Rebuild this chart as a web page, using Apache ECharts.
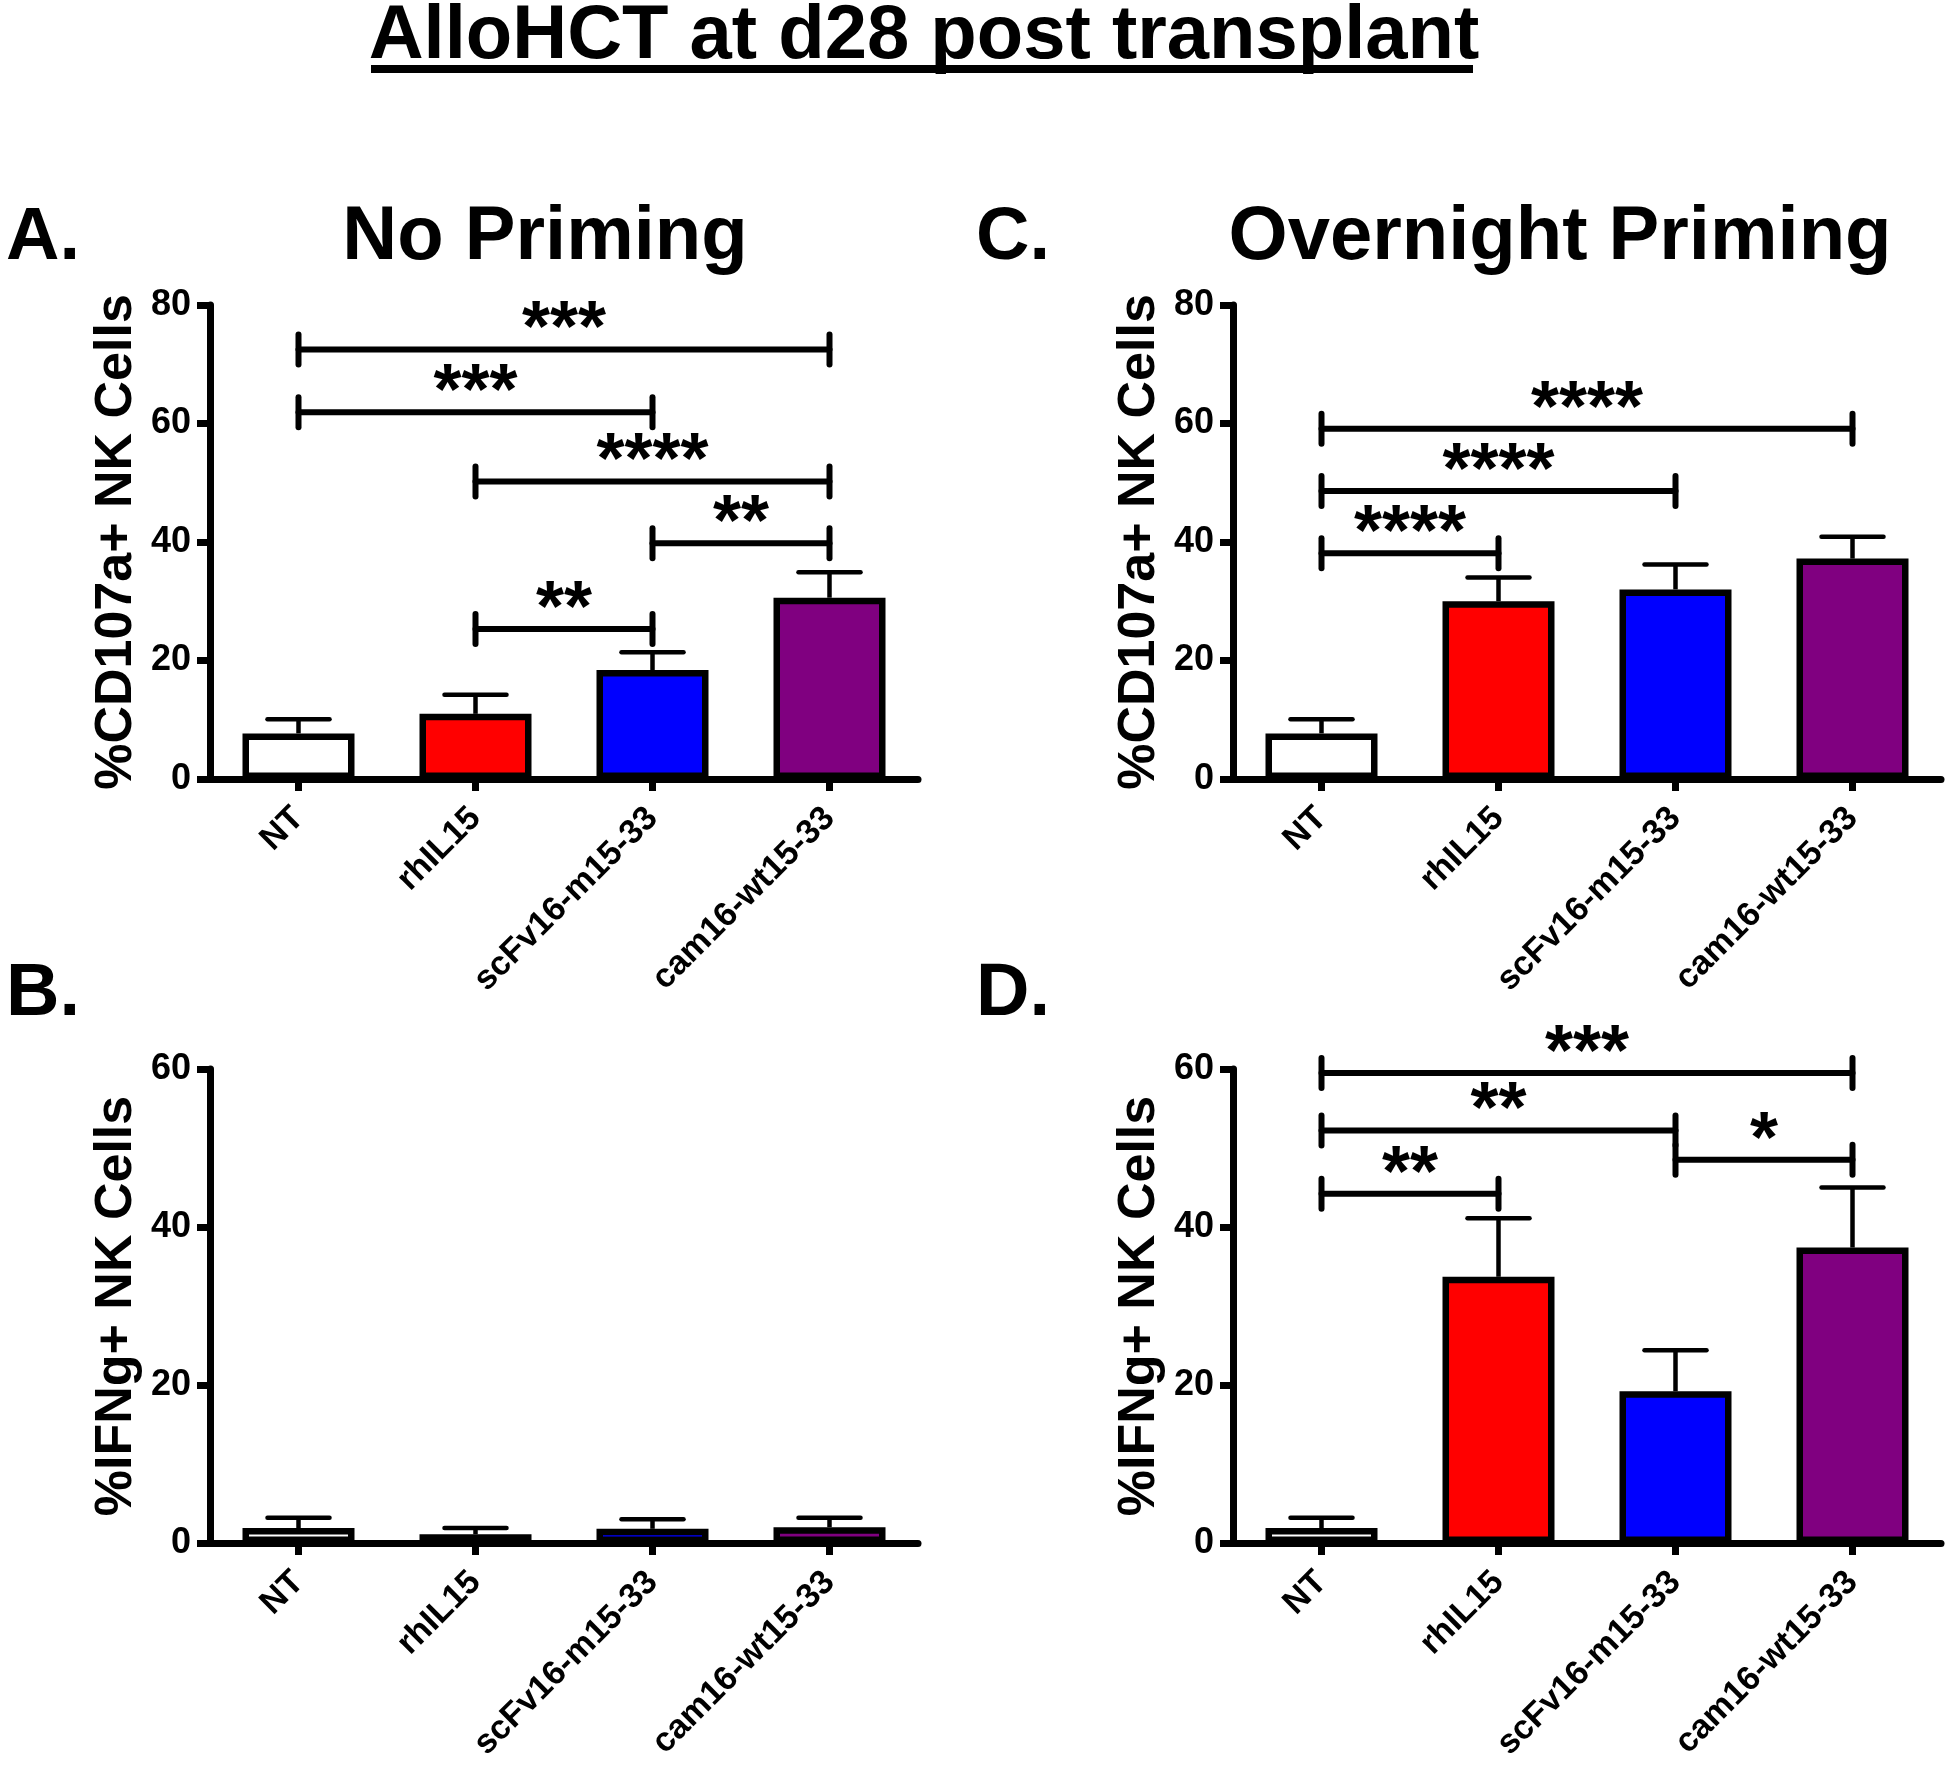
<!DOCTYPE html>
<html>
<head>
<meta charset="utf-8">
<script src="https://cdn.jsdelivr.net/npm/echarts@6/dist/echarts.min.js"></script>
<style>
html,body{margin:0;padding:0;background:#fff;}
#chart{width:1950px;height:1773px;}
</style>
</head>
<body>
<div id="chart"></div>
<script>
// ---------- data ----------
const categories = ['NT', 'rhIL15', 'scFv16-m15-33', 'cam16-wt15-33'];
const barColors = ['#FFFFFF', '#FF0000', '#0000FF', '#800080'];

// A. No priming, %CD107a+ NK cells (mean, SEM)
const cd107aNoPrimingMean = [7.7, 11.0, 18.4, 30.6];
const cd107aNoPrimingSem  = [2.4, 3.2, 3.0, 4.3];
// C. Overnight priming, %CD107a+ NK cells
const cd107aOvernightMean = [7.7, 30.0, 32.0, 37.2];
const cd107aOvernightSem  = [2.4, 4.0, 4.2, 3.7];
// B. No priming, %IFNg+ NK cells
const ifngNoPrimingMean = [1.9, 1.1, 1.8, 2.0];
const ifngNoPrimingSem  = [1.3, 0.8, 1.2, 1.2];
// D. Overnight priming, %IFNg+ NK cells
const ifngOvernightMean = [1.9, 33.7, 19.2, 37.4];
const ifngOvernightSem  = [1.3, 7.4, 5.2, 7.6];

// significance brackets: [fromCategory, toCategory, yValue, label]
const bracketsA = [[0, 3, 72.5, '***'], [0, 2, 61.9, '***'], [1, 3, 50.2, '****'], [2, 3, 39.8, '**'], [1, 2, 25.3, '**']];
const bracketsB = [];
const bracketsC = [[0, 3, 59.1, '****'], [0, 2, 48.6, '****'], [0, 1, 38.1, '****']];
const bracketsD = [[0, 3, 59.5, '***'], [0, 2, 52.2, '**'], [2, 3, 48.5, '*'], [0, 1, 44.2, '**']];

const yTicksCD107a = [0, 20, 40, 60, 80];
const yTicksIFNg = [0, 20, 40, 60];

// ---------- chart ----------
const FONT = '"Liberation Sans", Arial, Helvetica, sans-serif';
const panels = [
  { mean: cd107aNoPrimingMean, sem: cd107aNoPrimingSem, ticks: yTicksCD107a, name: '%CD107a+ NK Cells', brackets: bracketsA, grid: { left: 210, top: 305, width: 708, height: 474 } },
  { mean: ifngNoPrimingMean, sem: ifngNoPrimingSem, ticks: yTicksIFNg, name: '%IFNg+ NK Cells', brackets: bracketsB, grid: { left: 210, top: 1069, width: 708, height: 474 } },
  { mean: cd107aOvernightMean, sem: cd107aOvernightSem, ticks: yTicksCD107a, name: '%CD107a+ NK Cells', brackets: bracketsC, grid: { left: 1233, top: 305, width: 708, height: 474 } },
  { mean: ifngOvernightMean, sem: ifngOvernightSem, ticks: yTicksIFNg, name: '%IFNg+ NK Cells', brackets: bracketsD, grid: { left: 1233, top: 1069, width: 708, height: 474 } }
];

const grids = [], xAxes = [], yAxes = [], series = [];
panels.forEach((p, i) => {
  grids.push(p.grid);
  xAxes.push({
    type: 'category', gridIndex: i, data: categories,
    axisLine: { show: true, lineStyle: { color: '#000', width: 7 } },
    axisTick: { show: true, alignWithLabel: true, length: 12, lineStyle: { color: '#000', width: 7 } },
    axisLabel: { interval: 0, rotate: 45, margin: 34, color: '#000', fontSize: 34, fontWeight: 'bold', fontFamily: FONT },
    splitLine: { show: false }
  });
  yAxes.push({
    type: 'value', gridIndex: i, min: p.ticks[0], max: p.ticks[p.ticks.length - 1], interval: p.ticks[1] - p.ticks[0],
    name: p.name, nameLocation: 'middle', nameGap: 67, nameMoveOverlap: false,
    nameTextStyle: { color: '#000', fontSize: 52, fontWeight: 'bold', fontFamily: FONT },
    axisLine: { show: true, lineStyle: { color: '#000', width: 7 } },
    axisTick: { show: true, length: 13, lineStyle: { color: '#000', width: 7 } },
    axisLabel: { margin: 19, color: '#000', fontSize: 36, fontWeight: 'bold', fontFamily: FONT },
    splitLine: { show: false }
  });
  series.push({
    type: 'bar', xAxisIndex: i, yAxisIndex: i, barWidth: 112, z: 3,
    data: p.mean.map((v, k) => ({ value: v, itemStyle: { color: barColors[k], borderColor: '#000', borderWidth: 6.5 } })),
    emphasis: { disabled: true }, animation: false
  });
  series.push({
    type: 'custom', xAxisIndex: i, yAxisIndex: i, z: 2, animation: false,
    data: p.mean.map((v, k) => [k, v, v + p.sem[k]]),
    renderItem: (params, api) => {
      const x = api.value(0);
      const p0 = api.coord([x, api.value(1)]);
      const p1 = api.coord([x, api.value(2)]);
      const half = 31;
      return {
        type: 'group', children: [
          { type: 'line', shape: { x1: p0[0], y1: p0[1], x2: p1[0], y2: p1[1] }, style: { stroke: '#000', lineWidth: 4.5 } },
          { type: 'line', shape: { x1: p1[0] - half, y1: p1[1], x2: p1[0] + half, y2: p1[1] }, style: { stroke: '#000', lineWidth: 4.5, lineCap: 'round' } }
        ]
      };
    }
  });
  if (p.brackets.length) {
    const br = p.brackets;
    series.push({
      type: 'custom', xAxisIndex: i, yAxisIndex: i, z: 4, animation: false, clip: false,
      data: br.map(b => [b[0], b[2], b[1]]),
      renderItem: (params, api) => {
        const a = api.coord([api.value(0), api.value(1)]);
        const b = api.coord([api.value(2), api.value(1)]);
        const label = br[params.dataIndex][3];
        const hh = 15;
        const st = { stroke: '#000', lineWidth: 6, lineCap: 'round' };
        return {
          type: 'group', children: [
            { type: 'line', shape: { x1: a[0], y1: a[1], x2: b[0], y2: b[1] }, style: st },
            { type: 'line', shape: { x1: a[0], y1: a[1] - hh, x2: a[0], y2: a[1] + hh }, style: st },
            { type: 'line', shape: { x1: b[0], y1: b[1] - hh, x2: b[0], y2: b[1] + hh }, style: st },
            { type: 'text', x: (a[0] + b[0]) / 2, y: a[1] - 18,
              style: { text: label, fill: '#000', fontSize: 72, fontWeight: 'bold', fontFamily: FONT, align: 'center', verticalAlign: 'middle' } }
          ]
        };
      }
    });
  }
});

const textStyle = (txt, size, align) => ({ text: txt, fill: '#000', fontSize: size, fontWeight: 'bold', fontFamily: FONT, align: align, verticalAlign: 'middle' });

const option = {
  backgroundColor: '#fff',
  animation: false,
  grid: grids, xAxis: xAxes, yAxis: yAxes, series: series,
  graphic: [
    { type: 'text', x: 924, y: 37, style: textStyle('AlloHCT at d28 post transplant', 76, 'center') },
    { type: 'rect', shape: { x: 371, y: 65, width: 1102, height: 8 }, style: { fill: '#000' } },
    { type: 'text', x: 545, y: 238, style: textStyle('No Priming', 76, 'center') },
    { type: 'text', x: 1560, y: 238, style: textStyle('Overnight Priming', 76, 'center') },
    { type: 'text', x: 6, y: 239, style: textStyle('A.', 74, 'left') },
    { type: 'text', x: 976, y: 239, style: textStyle('C.', 74, 'left') },
    { type: 'text', x: 6, y: 995, style: textStyle('B.', 74, 'left') },
    { type: 'text', x: 976, y: 995, style: textStyle('D.', 74, 'left') }
  ]
};

const chart = echarts.init(document.getElementById('chart'), null, { renderer: 'canvas', width: 1950, height: 1773 });
chart.setOption(option);
</script>
</body>
</html>
